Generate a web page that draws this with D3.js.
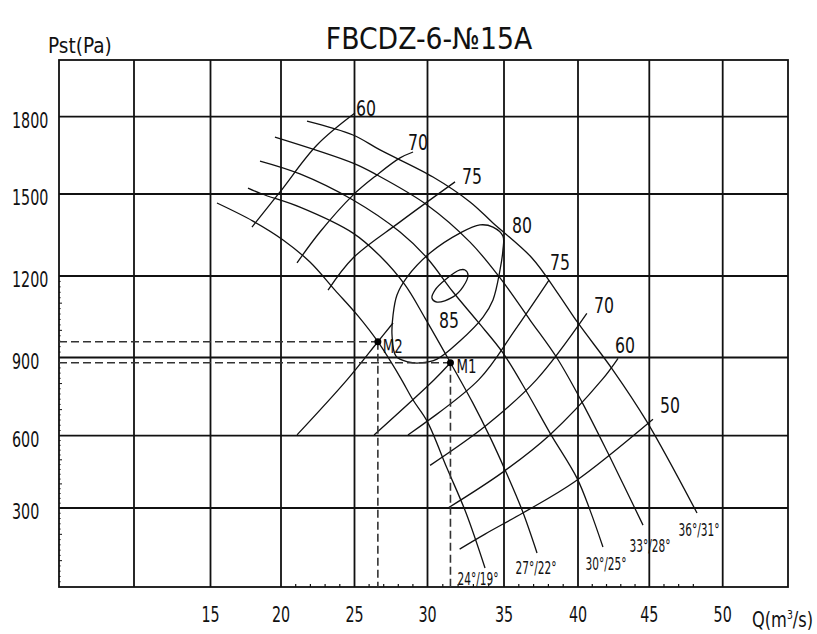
<!DOCTYPE html>
<html>
<head>
<meta charset="utf-8">
<script src="https://cdn.jsdelivr.net/npm/d3@7"></script>
<style>
  html, body { margin: 0; padding: 0; background: #fff; }
  svg { display: block; }
  text { font-family: "DejaVu Sans Condensed", "DejaVu Sans", sans-serif; fill: #111; }
</style>
</head>
<body>
<svg id="chart" width="817" height="634"></svg>
<script>
// Fan FBCDZ-6-No15A performance chart: static pressure vs. air flow

const title = "FBCDZ-6-№15A";
const qGrid = [10, 15, 20, 25, 30, 35, 40, 45, 50];
const qLabels = [15, 20, 25, 30, 35, 40, 45, 50];
const pGrid = [300, 600, 900, 1200, 1500, 1800];
const pLabels = [300, 600, 900, 1200, 1500, 1800];

// Blade angle curves: [Q (m3/s), Pst (Pa)]
const blade24 = [[15.46,1467],[18.01,1401],[20.14,1332],[21.97,1251],[23.67,1148],[25.24,1053],[26.6,958],[28.12,825],[29.01,737],[29.97,656],[31.27,466],[32.52,281],[33.76,72]];
const blade27 = [[17.66,1523],[18.65,1500],[21.29,1452],[24.90,1357],[26.75,1273],[28.46,1167],[29.83,1045],[31.5,880],[32.97,725],[34.08,595],[35.07,458],[36.22,292],[37.23,129]];
const blade30 = [[18.51,1628],[21.29,1578],[24.90,1478],[28.12,1361],[29.97,1266],[31.67,1141],[33.30,1031],[34.93,917],[36.62,760],[38.11,610],[39.93,424],[40.84,292],[41.75,152]];
const blade33 = [[19.57,1721],[24.90,1620],[26.54,1574],[29.97,1460],[32.78,1324],[34.74,1193],[36.76,1038],[38.58,898],[40.28,729],[42.10,528],[44.56,235]];
const blade36 = [[21.77,1783],[24.90,1729],[26.75,1671],[30.36,1566],[32.78,1471],[34.28,1394],[36.89,1266],[38.58,1141],[40.0,1027],[42.45,852],[44.84,653],[48.25,281]];
const bladeNames = ["24°/19°", "27°/22°", "30°/25°", "33°/28°", "36°/31°"];

// Efficiency lines (%)
const eta60L = [[17.94,1379],[19.93,1508],[22.45,1690],[25.03,1814]];
const eta70L = [[21.09,1248],[22.65,1361],[24.90,1496],[26.54,1574],[28.12,1640],[29.01,1663]];
const eta75L = [[23.20,1148],[24.90,1266],[28.12,1398],[31.80,1547]];
const eta80L = [[21.09,603],[24.49,814],[26.6,958],[27.64,1027]];
const eta80R = [[26.34,603],[30.42,814],[31.5,880]];
const eta75R = [[28.66,603],[33.34,814],[35.74,1001],[38.04,1185]];
const eta70R = [[30.17,477],[33.85,640],[37.20,815],[40.62,1062]];
const eta60R = [[31.34,300],[34.95,450],[38.11,604],[41.69,815],[42.81,897]];
const eta50R = [[32.10,144],[33.76,201],[36.27,281],[39.80,410],[45.25,663]];
const eta80 = [[34.93,1346],[34.28,1379],[33.43,1387],[32.12,1357],[30.16,1284],[28.60,1196],[27.91,1130],[27.64,1056],[27.57,983],[27.84,905],[28.66,883],[29.49,879],[30.62,894],[32.12,961],[33.63,1049],[34.28,1112],[34.74,1222],[34.93,1295]];
const eta85 = [[32.45,1222],[32.65,1204],[32.32,1160],[31.67,1123],[30.62,1104],[30.29,1119],[30.49,1148],[31.14,1185],[32.12,1222]];
const effLabels = [["60",25.79,1833],["70",29.35,1698],["75",32.91,1566],["80",36.22,1383],["85",31.41,1038],["75",38.78,1251],["70",41.82,1090],["60",43.30,946],["50",46.41,714]];

// Operating points
const ptM1 = [31.5, 880];
const ptM2 = [26.6, 958];

const svg = d3.select("#chart");
const x = d3.scaleLinear()
  .domain([5, 10, 15, 20, 25, 30, 35, 40, 45, 50, 54.46])
  .range([59, 134, 210.5, 281, 354.5, 427.5, 504, 578, 649.3, 722.7, 788]);
const y = d3.scaleLinear()
  .domain([0, 300, 600, 900, 1200, 1500, 1800, 2020])
  .range([587, 508, 435.7, 357.5, 276, 194, 116.7, 60]);

const [x0, x1] = [x(5), x(54.46)];
const [y0, y1] = [y(0), y(2020)];

// drafting-style lettering: every character gets the same advance
function cad(sel, advance) {
  sel.attr("textLength", function () { return this.textContent.length * advance; })
     .attr("lengthAdjust", "spacingAndGlyphs");
  return sel;
}

// grid
const grid = svg.append("g").attr("stroke", "#111").attr("stroke-width", 1.8);
grid.selectAll(".v").data(qGrid).join("line")
  .attr("x1", d => x(d)).attr("x2", d => x(d)).attr("y1", y0).attr("y2", y1);
grid.selectAll(".h").data(pGrid).join("line")
  .attr("x1", x0).attr("x2", x1).attr("y1", d => y(d)).attr("y2", d => y(d));
grid.append("rect").attr("x", x0).attr("y", y1).attr("width", x1 - x0).attr("height", y0 - y1).attr("fill", "none");

// minor ticks
const minorQ = d3.range(21, 49).filter(d => d % 5 !== 0);
svg.append("g").attr("stroke", "#111").attr("stroke-width", 1.2)
  .selectAll("line").data(minorQ).join("line")
  .attr("x1", d => x(d)).attr("x2", d => x(d)).attr("y1", y0).attr("y2", y0 - 3);
const minorP = d3.range(20, 1200, 20).filter(d => d % 300 !== 0);
svg.append("g").attr("stroke", "#111").attr("stroke-width", 1)
  .selectAll("line").data(minorP).join("line")
  .attr("x1", x0).attr("x2", d => x0 + (d % 100 === 0 ? 3 : 1.6)).attr("y1", d => y(d)).attr("y2", d => y(d));

// axis labels
cad(svg.append("g").selectAll("text").data(pLabels).join("text")
  .attr("x", 12).attr("y", d => y(d) + 11)
  .attr("font-size", 21).text(d => d), 9.1);
cad(svg.append("g").selectAll("text").data(qLabels).join("text")
  .attr("x", d => x(d)).attr("y", 622).attr("text-anchor", "middle")
  .attr("font-size", 21).text(d => d), 9.1);
svg.append("text").attr("transform", "translate(752,627) scale(0.86,1)").attr("font-size", 21)
  .html('Q(m<tspan dy="-8" font-size="12">3</tspan><tspan dy="8">/s)</tspan>');
cad(svg.append("text").attr("x", 48).attr("y", 53).attr("font-size", 21).text("Pst(Pa)"), 9.1);
cad(svg.append("text").attr("x", 429).attr("y", 49).attr("text-anchor", "middle").attr("font-size", 30).text(title), 17.2);

// curves
const line = d3.line().x(d => x(d[0])).y(d => y(d[1])).curve(d3.curveCatmullRom.alpha(0.5));
const closed = d3.line().x(d => x(d[0])).y(d => y(d[1])).curve(d3.curveCatmullRomClosed.alpha(0.5));
const curves = svg.append("g").attr("fill", "none").attr("stroke", "#111").attr("stroke-width", 1.3);
const blades = [blade24, blade27, blade30, blade33, blade36];
curves.selectAll(".blade").data(blades).join("path").attr("d", line);
curves.selectAll(".eta").data([eta60L, eta70L, eta75L, eta80L, eta80R, eta75R, eta70R, eta60R, eta50R]).join("path").attr("d", line);
curves.selectAll(".loop").data([eta80, eta85]).join("path").attr("d", closed);

// blade labels below the lower ends
const labelOffset = [[-7, 17], [-1, 21], [3, 23], [7, 27], [2, 23]];
svg.append("g").selectAll("text").data(blades).join("text")
  .attr("x", (d, i) => x(d[d.length - 1][0]) + labelOffset[i][0])
  .attr("y", (d, i) => y(d[d.length - 1][1]) + labelOffset[i][1])
  .attr("text-anchor", "middle").attr("font-size", 18)
  .attr("textLength", 41).attr("lengthAdjust", "spacingAndGlyphs")
  .text((d, i) => bladeNames[i]);

// efficiency labels
cad(svg.append("g").selectAll("text").data(effLabels).join("text")
  .attr("x", d => x(d[1])).attr("y", d => y(d[2]) + 7.5).attr("text-anchor", "middle")
  .attr("font-size", 21).text(d => d[0]), 10);

// operating points with dashed guides
const pts = [["M1", ptM1, 6, 3.5], ["M2", ptM2, 5, 4]];
const guides = svg.append("g").attr("stroke", "#333").attr("stroke-width", 1.6).attr("stroke-dasharray", "8,4");
guides.selectAll(".gh").data(pts).join("line")
  .attr("x1", x0).attr("x2", d => x(d[1][0])).attr("y1", d => y(d[1][1])).attr("y2", d => y(d[1][1]));
guides.selectAll(".gv").data(pts).join("line")
  .attr("x1", d => x(d[1][0])).attr("x2", d => x(d[1][0])).attr("y1", d => y(d[1][1])).attr("y2", y0);
svg.append("g").selectAll("circle").data(pts).join("circle")
  .attr("cx", d => x(d[1][0])).attr("cy", d => y(d[1][1])).attr("r", 3.5).attr("fill", "#000");
cad(svg.append("g").selectAll("text").data(pts).join("text")
  .attr("x", d => x(d[1][0]) + d[2]).attr("y", d => y(d[1][1]) + d[3] + 7)
  .attr("font-size", 20).text(d => d[0]), 10);
</script>
</body>
</html>
